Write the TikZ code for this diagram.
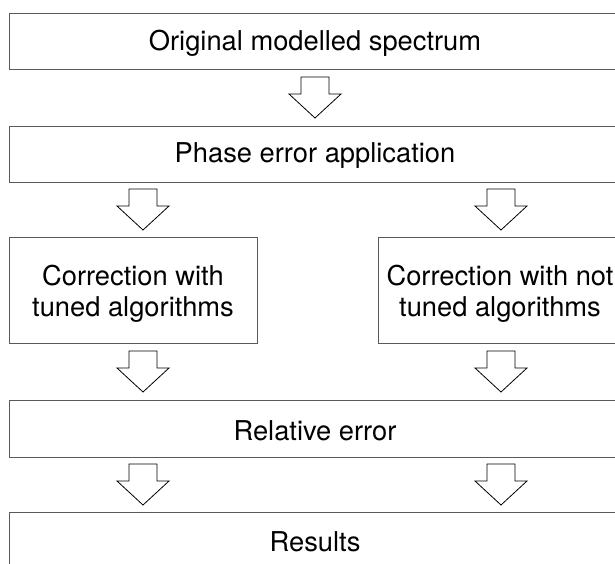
\documentclass[tikz,border=0pt]{standalone}
\usepackage{fontspec}
\setmainfont{TeX Gyre Heros}
\usetikzlibrary{calc}
\begin{document}
\begin{tikzpicture}[x=1pt,y=-1pt,
  labeltext/.style={inner sep=0pt, align=center, font=\fontsize{27.3}{31}\selectfont},
  stagebox/.style={draw=black!65, line width=0.8pt, rectangle, inner sep=0pt,
    minimum height=56pt},
  widebox/.style={stagebox, minimum width=612pt},
  sidebox/.style={stagebox, minimum height=106pt},
  pics/blockarrow/.style={code={
    \draw[black, line width=0.8pt, line join=miter]
      (-14,-20.5) -- (14,-20.5) -- (14,-3.5) -- (26,-3.5) -- (0,20.5)
      -- (-26,-3.5) -- (-14,-3.5) -- cycle;}}
]
\useasboundingbox (0,0) rectangle (615,564);

% processing stages: frames
\node[widebox] (orig) at (315,41) {};
\node[widebox] (phase) at (315,154) {};
\node[sidebox, minimum width=248pt] (tuned) at (133,290) {};
\node[sidebox, minimum width=244pt] (nottuned) at (500,290) {};
\node[widebox, minimum height=57pt] (relerr) at (315,428.5) {};
\node[widebox, minimum height=58pt] (res) at (315,541) {};

% processing stages: captions
\node[labeltext] (origtext) at ($(orig.center)+(0,2)$) {Original modelled spectrum};
\node[labeltext] (phasetext) at ($(phase.center)+(0,2)$) {Phase error application};
\node[labeltext] (tunedtext) at ($(tuned.center)+(0,4)$) {Correction with\\tuned algorithms};
\node[labeltext] (nottunedtext) at ($(nottuned.center)+(0,4)$) {Correction with not\\tuned algorithms};
\node[labeltext] (relerrtext) at ($(relerr.center)+(0,2)$) {Relative error};
\node[labeltext] (restext) at ($(res.center)+(0,1)$) {Results};

% columns of the block arrows
\coordinate (lcol) at (143,0);
\coordinate (rcol) at (501,0);
\coordinate (mcol) at (315,0);

% block arrows between the stages
\pic at ($(orig.south -| mcol)!0.5!(phase.north -| mcol)$) {blockarrow};
\pic at ($(phase.south -| lcol)!0.5!(tuned.north -| lcol)$) {blockarrow};
\pic at ($(phase.south -| rcol)!0.5!(nottuned.north -| rcol)$) {blockarrow};
\pic at ($(tuned.south -| lcol)!0.5!(relerr.north -| lcol)$) {blockarrow};
\pic at ($(nottuned.south -| rcol)!0.5!(relerr.north -| rcol)$) {blockarrow};
\pic at ($(relerr.south -| lcol)!0.5!(res.north -| lcol)$) {blockarrow};
\pic at ($(relerr.south -| rcol)!0.5!(res.north -| rcol)$) {blockarrow};
\end{tikzpicture}
\end{document}
